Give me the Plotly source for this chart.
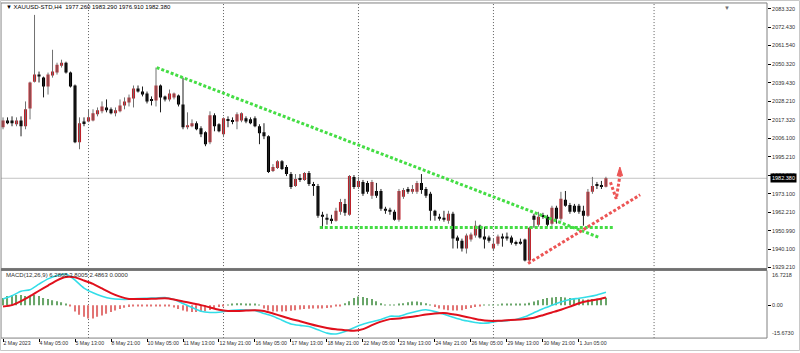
import plotly.graph_objects as go

# ---------------- data ----------------
symbol = "XAUUSD-STD,H4"

opens = [2012.8, 2016.9, 2016.9, 2014.6, 2016.9, 2013.4, 2024.0, 2040.0, 2044.2, 2042.4,
         2037.1, 2043.6, 2045.4, 2049.5, 2051.3, 2045.4, 2037.7, 2003.9, 2016.3, 2016.3,
         2016.9, 2020.5, 2022.3, 2024.6, 2023.5, 2021.1, 2022.3, 2025.8, 2027.6, 2030.0,
         2035.9, 2034.1, 2032.9, 2029.4, 2028.8, 2037.7, 2031.2, 2029.4, 2030.6, 2031.7,
         2026.4, 2012.8, 2013.4, 2015.2, 2012.2, 2009.8, 2003.9, 2019.9, 2014.6, 2008.6,
         2017.5, 2016.9, 2016.3, 2016.9, 2018.1, 2017.5, 2018.1, 2013.4, 2009.8, 2007.4,
         1986.7, 1988.5, 1992.6, 1989.1, 1984.9, 1977.8, 1982.6, 1981.4, 1985.5, 1979.0,
         1977.8, 1960.6, 1958.8, 1958.2, 1957.1, 1962.4, 1967.1, 1960.6, 1983.2, 1977.2,
         1980.2, 1979.6, 1971.9, 1974.8, 1974.8, 1964.2, 1963.6, 1962.4, 1957.6, 1971.3,
         1976.0, 1974.3, 1974.3, 1979.6, 1976.0, 1973.1, 1963.0, 1959.4, 1958.8, 1957.1,
         1961.2, 1947.0, 1945.2, 1940.5, 1945.8, 1948.2, 1954.1, 1947.6, 1947.0, 1940.5,
         1943.4, 1947.6, 1947.6, 1947.0, 1944.0, 1944.6, 1945.8, 1933.3, 1960.0, 1954.7,
         1960.0, 1959.4, 1955.3, 1964.8, 1958.2, 1969.5, 1966.5, 1966.0, 1966.0, 1963.0,
         1960.0, 1974.3, 1978.4, 1978.4, 1977.26]
highs = [2018.7, 2018.7, 2019.3, 2018.7, 2019.3, 2028.2, 2040.0, 2079.8, 2046.0, 2043.0,
         2045.4, 2059.0, 2051.3, 2053.1, 2051.9, 2046.0, 2038.3, 2018.7, 2018.7, 2023.5,
         2023.5, 2024.6, 2028.2, 2029.4, 2024.6, 2024.6, 2029.4, 2030.6, 2032.3, 2037.7,
         2037.7, 2037.1, 2034.1, 2031.2, 2048.4, 2038.3, 2031.7, 2035.3, 2033.5, 2032.3,
         2042.4, 2021.7, 2017.5, 2016.3, 2013.4, 2010.4, 2022.3, 2021.1, 2015.2, 2018.7,
         2019.3, 2018.7, 2021.7, 2021.7, 2019.3, 2018.7, 2019.3, 2014.6, 2015.2, 2008.0,
         1990.8, 1993.2, 1993.2, 1990.3, 1986.1, 1984.9, 1984.9, 1986.1, 1986.7, 1980.2,
         1979.0, 1962.4, 1961.2, 1960.6, 1964.8, 1970.1, 1970.1, 1984.3, 1984.3, 1983.2,
         1981.4, 1980.8, 1981.4, 1979.6, 1976.0, 1965.4, 1964.8, 1963.6, 1976.0, 1976.6,
         1977.2, 1978.4, 1980.8, 1984.9, 1977.2, 1974.3, 1963.6, 1961.2, 1963.0, 1963.0,
         1962.4, 1948.2, 1946.4, 1949.4, 1950.0, 1957.1, 1954.7, 1953.5, 1948.2, 1946.4,
         1948.8, 1949.4, 1950.0, 1948.2, 1945.2, 1946.4, 1946.4, 1953.5, 1961.2, 1962.4,
         1961.8, 1960.6, 1966.0, 1966.0, 1974.3, 1974.8, 1967.7, 1967.1, 1967.1, 1966.0,
         1976.0, 1983.2, 1980.2, 1980.8, 1983.29]
lows = [2011.6, 2014.6, 2013.4, 2013.4, 2007.4, 2011.6, 2017.5, 2039.5, 2039.5, 2030.6,
        2032.3, 2042.4, 2044.2, 2048.4, 2044.8, 2036.5, 2003.3, 1999.7, 2013.4, 2015.8,
        2016.3, 2019.3, 2021.1, 2021.7, 2020.5, 2019.3, 2021.7, 2023.5, 2025.2, 2024.6,
        2033.5, 2031.2, 2027.0, 2025.8, 2025.2, 2021.7, 2028.2, 2028.2, 2029.4, 2025.2,
        2011.6, 2011.6, 2012.8, 2011.0, 2006.9, 2001.5, 2002.7, 2010.4, 2009.8, 2006.9,
        2012.8, 2014.6, 2011.6, 2015.8, 2015.2, 2014.6, 2012.8, 2002.7, 2005.7, 1985.5,
        1986.1, 1987.9, 1987.3, 1983.7, 1976.0, 1977.2, 1980.2, 1980.8, 1977.8, 1971.9,
        1958.8, 1952.3, 1954.7, 1955.3, 1956.5, 1960.6, 1960.0, 1960.0, 1976.0, 1976.0,
        1971.9, 1973.1, 1970.1, 1970.7, 1963.0, 1961.2, 1960.6, 1957.1, 1956.5, 1970.1,
        1973.1, 1973.1, 1973.1, 1973.1, 1970.7, 1957.1, 1957.1, 1957.1, 1956.5, 1955.3,
        1940.5, 1940.5, 1938.7, 1937.5, 1944.6, 1947.0, 1946.4, 1940.5, 1944.0, 1939.3,
        1942.2, 1941.6, 1945.2, 1942.8, 1942.2, 1942.8, 1932.8, 1931.6, 1952.9, 1953.5,
        1958.2, 1953.5, 1954.1, 1955.3, 1957.1, 1965.4, 1961.2, 1961.8, 1961.2, 1954.1,
        1959.4, 1973.1, 1976.0, 1976.0, 1976.91]
closes = [2016.9, 2015.2, 2015.2, 2016.9, 2013.4, 2023.5, 2039.5, 2044.2, 2043.0, 2037.1,
          2044.2, 2046.0, 2050.1, 2051.3, 2045.4, 2037.1, 2003.9, 2015.2, 2015.2, 2018.7,
          2021.1, 2022.9, 2025.2, 2022.9, 2021.1, 2022.9, 2025.8, 2028.2, 2030.6, 2035.9,
          2034.1, 2032.3, 2028.2, 2028.8, 2037.7, 2030.6, 2029.4, 2032.9, 2032.9, 2026.4,
          2012.8, 2014.0, 2015.2, 2011.6, 2008.6, 2002.7, 2019.9, 2013.4, 2010.4, 2018.1,
          2016.9, 2016.3, 2020.5, 2021.1, 2016.3, 2015.2, 2013.4, 2009.2, 2007.4, 1986.1,
          1989.1, 1992.6, 1987.9, 1984.9, 1977.2, 1982.0, 1981.4, 1985.5, 1979.0, 1977.8,
          1960.0, 1959.4, 1957.6, 1957.1, 1963.0, 1968.3, 1961.8, 1983.7, 1977.2, 1980.8,
          1973.1, 1974.3, 1980.2, 1971.9, 1964.2, 1963.0, 1962.4, 1957.6, 1974.8, 1975.4,
          1974.3, 1976.0, 1979.6, 1975.4, 1971.9, 1963.0, 1960.0, 1958.2, 1957.6, 1961.2,
          1946.4, 1945.2, 1940.5, 1948.2, 1948.8, 1954.1, 1947.0, 1945.8, 1945.2, 1943.4,
          1947.6, 1946.4, 1946.4, 1944.0, 1943.4, 1943.4, 1933.3, 1952.9, 1957.6, 1959.4,
          1959.4, 1954.7, 1964.8, 1958.2, 1970.1, 1966.0, 1962.4, 1962.4, 1962.4, 1960.0,
          1974.3, 1977.8, 1977.8, 1977.5, 1982.38]

time_tick_idx = [0, 8, 16, 24, 32, 40, 48, 56, 64, 72, 80, 88, 96, 104, 112, 120, 128]
time_tick_text = ["2 May 2023", "4 May 05:00", "5 May 13:00", "8 May 21:00", "10 May 05:00",
                  "11 May 13:00", "12 May 21:00", "16 May 05:00", "17 May 13:00", "18 May 21:00",
                  "22 May 05:00", "23 May 13:00", "24 May 21:00", "26 May 05:00", "29 May 13:00",
                  "30 May 21:00", "1 Jun 05:00"]

price_ticks = [2083.320, 2072.430, 2061.540, 2050.320, 2039.430, 2028.210, 2017.320, 2006.100,
               1995.210, 1984.320, 1973.100, 1962.210, 1950.990, 1940.100, 1929.210]
price_range = [1928.6, 2086.9]
bid_price = 1982.380

macd_idx = list(range(0, 135, 2))
macd_main = [3.1, 4.6, 6.8, 7.5, 10.2, 12.7, 14.3, 15.0, 12.1, 8.3,
             6.0, 4.4, 3.3, 2.9, 2.9, 3.3, 3.4, 3.5, 3.7, 2.8,
             0.9, -1.0, -2.8, -3.4, -3.3, -2.6, -2.2, -2.2, -2.4, -3.9,
             -5.2, -7.1, -8.9, -9.6, -10.1, -11.7, -13.3, -13.7, -12.5, -10.7,
             -9.1, -7.9, -6.8, -5.2, -5.2, -3.9, -2.8, -2.1, -3.0, -4.3,
             -5.7, -7.0, -7.8, -8.5, -8.4, -7.6, -7.3, -6.8, -5.5, -3.5,
             -1.6, 0.0, 1.6, 2.8, 3.4, 4.1, 5.0, 6.2868]
macd_signal = [-0.6, 0.1, 2.0, 4.4, 7.0, 9.5, 12.0, 13.6, 13.4, 11.9,
               10.3, 8.1, 5.9, 4.2, 3.1, 3.0, 3.1, 3.2, 3.4, 2.8,
               1.9, 1.0, 0.1, -1.0, -2.1, -2.7, -2.7, -2.5, -2.3, -2.7,
               -3.9, -5.2, -6.5, -7.6, -8.8, -9.9, -10.8, -11.5, -11.9, -12.2,
               -11.4, -9.5, -7.8, -6.6, -6.3, -5.7, -5.1, -4.4, -3.9, -3.7,
               -4.3, -5.1, -6.0, -6.9, -7.4, -7.4, -7.1, -6.9, -6.5, -5.9,
               -4.7, -3.4, -2.1, -0.6, 1.0, 2.1, 2.8, 3.8005]
macd_hist = [3.5, 4.5, 5.0, 5.0, 5.0, 4.5, 4.5, 5.0, 4.5, 3.5,
             3.0, 2.5, 2.0, 1.5, 0.8, -0.5, -3.0, -4.5, -5.5, -6.3,
             -6.3, -5.5, -4.8, -4.0, -3.2, -2.5, -1.8, -1.2, -0.8, -0.6,
             -0.5, -0.4, -0.3, -0.3, -0.2, -0.2, -0.1, -0.5, -1.0, -1.8,
             -2.5, -3.0, -3.2, -3.2, -3.0, -2.8, -2.2, -1.5, -0.8, -0.3,
             0.2, 0.8, 1.0, 1.0, 0.9, 0.8, 0.5, 0.2, -1.5, -2.5,
             -3.0, -3.0, -3.0, -2.8, -2.6, -2.3, -2.0, -1.7, -1.6, -1.5,
             -1.5, -1.5, -1.3, -1.0, -0.6, -0.2, 1.0, 2.0, 3.5, 4.3,
             4.0, 3.5, 3.0, 2.0, 1.0, 0.3, 0.2, 0.2, 0.5, 1.0,
             1.5, 1.8, 1.8, 1.5, 1.0, 0.3, -0.8, -1.5, -2.0, -2.3,
             -2.5, -2.5, -2.3, -1.8, -1.3, -0.8, -0.4, 0.1, 0.2, 0.3,
             0.4, 0.5, 0.5, 0.5, 0.6, 0.6, 0.8, 1.2, 1.8, 2.5,
             3.0, 3.5, 3.8, 4.0, 4.0, 3.8, 3.5, 3.2, 3.0, 2.8,
             2.8, 3.0, 3.2, 3.5, 3.7]
macd_range = [-15.6730, 16.7218]
macd_header = "MACD(12,26,9) 6.2868 3.8005 2.4863 0.0000"

separator_idx = [19, 49, 79, 109, 144.7]

trend_down_x = [34.15, 132.3]
trend_down_y = [2048.4, 1947.3]
support_x = [70.4, 135.6]
support_y = [1953.1, 1953.1]
trend_up_x = [116.7, 141.6]
trend_up_y = [1931.6, 1972.5]
arrow_x = [135.0, 136.3, 137.1]
arrow_y = [1980.0, 1970.1, 1983.9]
arrow_head_x = [136.5, 137.7, 137.1, 136.5]
arrow_head_y = [1983.9, 1983.9, 1989.1, 1983.9]

# ---------------- layout geometry ----------------
W, H = 800, 353
x_range = [-0.45, 169.8]
x_dom = [1 / W, 767 / W]
main_dom = [(H - 270) / H, (H - 3) / H]
macd_dom = [(H - 340) / H, (H - 272) / H]

FONT = "Liberation Sans"
RED_BODY = "#bc2029"
BLACK_BODY = "#000000"

n = len(opens)
idx = list(range(n))

fig = go.Figure()

# wicks
for bull, col in ((True, "#707070"), (False, "#202020")):
    wx, wy = [], []
    for i in idx:
        if (closes[i] >= opens[i]) == bull:
            wx += [i, i, None]
            wy += [lows[i], highs[i], None]
    fig.add_trace(go.Scatter(x=wx, y=wy, mode="lines", line=dict(color=col, width=1),
                             hoverinfo="skip", xaxis="x", yaxis="y"))

# bodies
fig.add_trace(go.Bar(
    x=idx,
    y=[max(abs(c - o), 0.6) for o, c in zip(opens, closes)],
    base=[min(o, c) for o, c in zip(opens, closes)],
    width=0.68,
    marker=dict(color=[RED_BODY if c >= o else BLACK_BODY for o, c in zip(opens, closes)],
                line=dict(width=0)),
    xaxis="x", yaxis="y", hoverinfo="skip"))

# drawings
dots = "3px,2px"
fig.add_trace(go.Scatter(x=trend_down_x, y=trend_down_y, mode="lines",
                         line=dict(color="#44dd44", width=3, dash=dots), xaxis="x", yaxis="y"))
fig.add_trace(go.Scatter(x=support_x, y=support_y, mode="lines",
                         line=dict(color="#44dd44", width=3, dash=dots), xaxis="x", yaxis="y"))
fig.add_trace(go.Scatter(x=trend_up_x, y=trend_up_y, mode="lines",
                         line=dict(color="#ec5555", width=3, dash=dots), xaxis="x", yaxis="y"))
fig.add_trace(go.Scatter(x=arrow_x, y=arrow_y, mode="lines",
                         line=dict(color="#ec5555", width=3, dash=dots), xaxis="x", yaxis="y"))
fig.add_trace(go.Scatter(x=arrow_head_x, y=arrow_head_y, mode="lines", fill="toself",
                         fillcolor="#ec5555", line=dict(color="#ec5555", width=1),
                         xaxis="x", yaxis="y"))

# MACD histogram
fig.add_trace(go.Bar(
    x=idx, y=macd_hist, width=0.24,
    marker=dict(color=["#6aa66a" if v >= 0 else "#e27474" for v in macd_hist], line=dict(width=0)),
    xaxis="x2", yaxis="y2", hoverinfo="skip"))
fig.add_trace(go.Scatter(x=macd_idx, y=macd_main, mode="lines",
                         line=dict(color="#33dde8", width=1.6, shape="spline", smoothing=0.6),
                         xaxis="x2", yaxis="y2"))
fig.add_trace(go.Scatter(x=macd_idx, y=macd_signal, mode="lines",
                         line=dict(color="#e0101c", width=2, shape="spline", smoothing=0.6),
                         xaxis="x2", yaxis="y2"))

shapes = []
# bid line
shapes.append(dict(type="line", xref="paper", yref="y", x0=x_dom[0], x1=x_dom[1],
                   y0=bid_price, y1=bid_price, line=dict(color="#c4c4c4", width=1), layer="below"))
# separators
for s in separator_idx:
    shapes.append(dict(type="line", xref="x", yref="paper", x0=s, x1=s,
                       y0=macd_dom[0], y1=main_dom[1],
                       line=dict(color="#606060", width=1, dash="1px,2px"), layer="below"))
# frames
shapes.append(dict(type="rect", xref="paper", yref="paper", x0=x_dom[0], x1=x_dom[1],
                   y0=main_dom[0], y1=main_dom[1], line=dict(color="#808080", width=1)))
shapes.append(dict(type="rect", xref="paper", yref="paper", x0=x_dom[0], x1=x_dom[1],
                   y0=macd_dom[0], y1=macd_dom[1], line=dict(color="#808080", width=1)))
shapes.append(dict(type="line", xref="paper", yref="paper", x0=x_dom[0], x1=x_dom[1],
                   y0=(H - 271) / H, y1=(H - 271) / H, line=dict(color="#707070", width=2)))
shapes.append(dict(type="rect", xref="paper", yref="paper", x0=0.5 / W, x1=799.5 / W,
                   y0=0.5 / H, y1=352.5 / H, line=dict(color="#c8c8c8", width=1)))

annotations = [
    dict(xref="paper", yref="paper", x=4 / W, y=(H - 7) / H, xanchor="left", yanchor="middle",
         showarrow=False, font=dict(family=FONT, size=6, color="#000"),
         text="\u25bc " + symbol + "  " + " ".join(f"{v:.3f}" for v in
                                                   (opens[-1], highs[-1], lows[-1], closes[-1]))),
    dict(xref="paper", yref="paper", x=4 / W, y=(H - 277) / H, xanchor="left", yanchor="middle",
         showarrow=False, font=dict(family=FONT, size=6, color="#303030"), text=macd_header),
    dict(xref="paper", yref="y", x=770 / W, y=bid_price, xanchor="left", yanchor="middle",
         showarrow=False, bgcolor="#000", borderpad=1,
         font=dict(family=FONT, size=5.5, color="#fff"), text=f"{bid_price:.3f}"),
    dict(xref="paper", yref="y2", x=770 / W, y=macd_range[1], xanchor="left", yanchor="top",
         showarrow=False, font=dict(family=FONT, size=5.5, color="#303030"),
         text=f"{macd_range[1]:.4f}"),
    dict(xref="paper", yref="y2", x=770 / W, y=macd_range[0], xanchor="left", yanchor="bottom",
         showarrow=False, font=dict(family=FONT, size=5.5, color="#303030"),
         text=f"{macd_range[0]:.4f}"),
    dict(xref="paper", yref="paper", x=727 / W, y=(H - 2) / H, xanchor="center", yanchor="top",
         showarrow=False, font=dict(size=6, color="#707070"), text="\u25bc"),
]

fig.update_layout(
    width=W, height=H, margin=dict(l=0, r=0, t=0, b=0),
    paper_bgcolor="white", plot_bgcolor="white", showlegend=False, barmode="overlay",
    shapes=shapes, annotations=annotations,
    xaxis=dict(domain=x_dom, range=x_range, anchor="y", showgrid=False, zeroline=False,
               showticklabels=False, ticks=""),
    xaxis2=dict(domain=x_dom, range=x_range, anchor="y2", showgrid=False, zeroline=False,
                tickmode="array", tickvals=time_tick_idx, ticktext=time_tick_text,
                ticks="outside", ticklen=3, tickcolor="#000", tickangle=0,
                ticklabelposition="outside right",
                tickfont=dict(family=FONT, size=5.2, color="#303030")),
    yaxis=dict(domain=main_dom, range=price_range, anchor="x", side="right", showgrid=False,
               zeroline=False, tickmode="array", tickvals=price_ticks,
               ticktext=[f"{v:.3f}" for v in price_ticks], ticks="outside", ticklen=3,
               tickcolor="#000", tickfont=dict(family=FONT, size=5.5, color="#303030")),
    yaxis2=dict(domain=macd_dom, range=macd_range, anchor="x2", side="right", showgrid=False,
                zeroline=False, tickmode="array", tickvals=[0], ticktext=["0.00"],
                ticks="outside", ticklen=3, tickcolor="#000",
                tickfont=dict(family=FONT, size=5.5, color="#303030")),
)

fig.write_html("out.html")
